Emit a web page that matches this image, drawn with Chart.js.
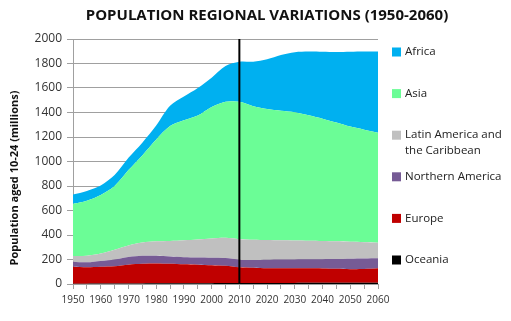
<!DOCTYPE html>
<html>
<head>
<meta charset="utf-8">
<script src="https://cdn.jsdelivr.net/npm/chart.js@4/dist/chart.umd.min.js"></script>
<style>
  html, body { margin: 0; padding: 0; background: #fff; }
  #wrap { width: 511px; height: 321px; }
</style>
</head>
<body>
<div id="wrap"><canvas id="popChart" width="511" height="321"></canvas></div>
<script>
// youth population (aged 10-24), millions, every 5 years
const years = ['1950','1955','1960','1965','1970','1975','1980','1985','1990','1995','2000','2005',
               '2010','2015','2020','2025','2030','2035','2040','2045','2050','2055','2060'];
const oceania         = [3,3,4,4,5,5,6,6,6,7,7,8,8,8,9,9,9,10,10,10,10,11,11];
const europe          = [138,133,136,141,153,160,162,159,155,151,146,140,128,124,119,119,119,118,117,114,111,111,117];
const northernAmerica = [41,41,48,55,62,65,62,59,58,59,62,64,62,64,70,72,73,74,76,80,85,86,82];
const latinAmerica    = [47,54,60,80,95,108,118,128,139,147,156,165,168,166,161,157,154,151,148,144,139,133,127];
const asia            = [426,449,479,520,615,712,832,938,978,1011,1074,1111,1122,1090,1069,1058,1048,1025,999,970,940,919,898];
const africa          = [75,80,78,90,100,104,114,165,194,225,239,292,327,363,407,455,489,519,545,575,610,637,663];
const yTicks = [0,200,400,600,800,1000,1200,1400,1600,1800,2000];
const markerYear = '2010';

const series = [
  { label: 'Oceania', data: oceania, color: '#000000' },
  { label: 'Europe', data: europe, color: '#c00000' },
  { label: 'Northern America', data: northernAmerica, color: '#765b95' },
  { label: 'Latin America and\nthe Caribbean', data: latinAmerica, color: '#c0c0c0' },
  { label: 'Asia', data: asia, color: '#6bfd96' },
  { label: 'Africa', data: africa, color: '#00b0f0' }
];

const datasets = series.map((s, i) => ({
  label: s.label,
  data: s.data,
  backgroundColor: s.color,
  borderWidth: 0,
  pointRadius: 0,
  tension: 0.3,
  fill: i === 0 ? 'origin' : '-1'
}));

// title, rotated axis title, vertical 2010 marker and the side legend
const extras = {
  id: 'extras',
  afterDatasetsDraw(chart) {
    const ctx = chart.ctx;
    const x = chart.scales.x;
    const area = chart.chartArea;
    const px = x.getPixelForValue(years.indexOf(markerYear));
    ctx.save();
    ctx.strokeStyle = '#000';
    ctx.lineWidth = 2;
    ctx.beginPath();
    ctx.moveTo(px, area.top);
    ctx.lineTo(px, area.bottom);
    ctx.stroke();
    ctx.restore();
  },
  afterDraw(chart) {
    const ctx = chart.ctx;
    ctx.save();
    ctx.fillStyle = '#111';
    ctx.textAlign = 'center';
    ctx.textBaseline = 'middle';
    ctx.font = 'bold 15px "Open Sans"';
    ctx.fillText('POPULATION REGIONAL VARIATIONS (1950-2060)', 267, 16);

    ctx.save();
    ctx.translate(15, 178);
    ctx.rotate(-Math.PI / 2);
    ctx.font = 'bold 11px "Open Sans"';
    ctx.fillText('Population aged 10-24 (millions)', 0, 0);
    ctx.restore();

    ctx.textAlign = 'left';
    ctx.font = '11.5px "Open Sans"';
    const items = chart.data.datasets.slice().reverse();
    items.forEach((ds, i) => {
      const cy = 52 + i * 41.6;
      ctx.fillStyle = ds.backgroundColor;
      ctx.fillRect(392, cy - 4.5, 9, 9);
      ctx.fillStyle = '#222';
      ds.label.split('\n').forEach((line, j) => {
        ctx.fillText(line, 405, cy + j * 16);
      });
    });
    ctx.restore();
  }
};

new Chart(document.getElementById('popChart'), {
  type: 'line',
  data: { labels: years, datasets: datasets },
  options: {
    responsive: false,
    animation: false,
    layout: { padding: { left: 0, right: 133, top: 39, bottom: 0 } },
    plugins: {
      legend: { display: false },
      title: { display: false },
      tooltip: { enabled: false }
    },
    scales: {
      x: {
        offset: false,
        grid: { display: true, drawOnChartArea: false, tickLength: 5, color: '#a0a0a0' },
        border: { color: '#a0a0a0' },
        ticks: {
          autoSkip: false,
          maxRotation: 0,
          padding: 5,
          color: '#333',
          font: { family: 'Open Sans', size: 10 },
          callback: function(v, i) { return i % 2 === 0 ? years[i] : ''; }
        },
        afterFit(scale) { scale.height = 37; }
      },
      y: {
        stacked: true,
        min: 0,
        max: 2000,
        afterBuildTicks(scale) { scale.ticks = yTicks.map(v => ({ value: v })); },
        grid: { color: '#a0a0a0', tickLength: 6 },
        border: { color: '#a0a0a0' },
        ticks: {
          padding: 5,
          color: '#333',
          font: { family: 'Open Sans', size: 12 },
          callback: function(v) { return String(v); }
        },
        afterFit(scale) { scale.width = 73; }
      }
    }
  },
  plugins: [extras]
});
</script>
</body>
</html>
